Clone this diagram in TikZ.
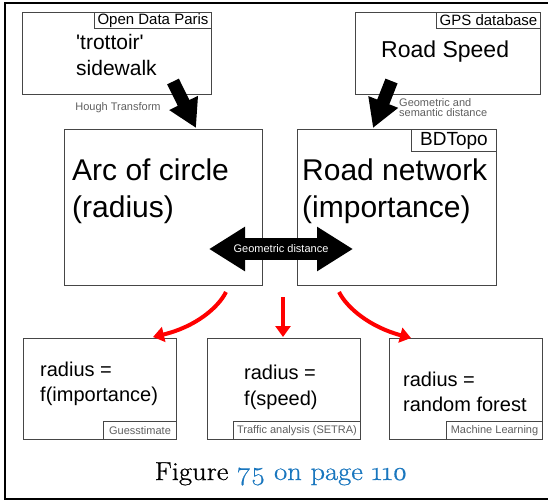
\documentclass[tikz,border=0pt]{standalone}
\usepackage{fontspec}
\setmainfont{Liberation Sans}
\newfontfamily\capfont[Numbers=OldStyle,FakeStretch=1.1,FakeBold=0.6]{Latin Modern Roman}
\usetikzlibrary{arrows.meta}
\definecolor{linkblue}{RGB}{25,118,190}
\definecolor{boxgray}{RGB}{70,70,70}
\definecolor{txtgray}{RGB}{95,95,95}
\begin{document}
\begin{tikzpicture}[x=1pt,y=-1pt,
  box/.style={draw=boxgray, line width=1.2pt, rectangle, inner sep=0pt, anchor=north west},
  lbl/.style={draw=boxgray, line width=1pt, rectangle, inner sep=0pt, anchor=north west, font=\fontsize{15}{16}\selectfont},
  sublbl/.style={draw=boxgray, line width=1pt, rectangle, inner sep=0pt, anchor=north west, text=txtgray, font=\fontsize{11}{12}\selectfont},
  bigtxt/.style={anchor=west, align=left, inner sep=0pt},
  note/.style={text=txtgray, inner sep=0pt, font=\fontsize{11}{10.5}\selectfont},
  blockarrow/.style={line width=13pt, -{Triangle[length=28pt,width=30pt]}},
  dblarrow/.style={line width=22pt, {Triangle[length=36pt,width=42pt]}-{Triangle[length=36pt,width=42pt]}},
  redarrow/.style={red, line width=4pt, -{Triangle[length=11pt,width=15pt]}}]
\useasboundingbox (0,0) rectangle (548,501);
\draw[line width=1.5pt] (5,3) rectangle (553,499);

% top boxes
\node[box, minimum width=189pt, minimum height=82pt] (trot) at (22,12) {};
\node[lbl, minimum width=117pt, minimum height=16pt] (odp) at (94,12) {Open Data Paris};
\node[bigtxt, font=\fontsize{21}{26}\selectfont] (trottxt) at (76,55) {\textquotesingle trottoir\textquotesingle\\sidewalk};

\node[box, minimum width=185pt, minimum height=82pt] (speed) at (355,12) {};
\node[lbl, minimum width=104pt, minimum height=16pt] (gps) at (436,12) {GPS database};
\node[bigtxt, font=\fontsize{23}{26}\selectfont] (speedtxt) at (381,52) {Road Speed};

% middle boxes
\node[box, minimum width=198pt, minimum height=156pt] (arc) at (64,129) {};
\node[bigtxt, font=\fontsize{30}{37}\selectfont] (arctxt) at (72,191.5) {Arc of circle\\(radius)};

\node[box, minimum width=199pt, minimum height=156pt] (road) at (297,129) {};
\node[lbl, minimum width=85pt, minimum height=22pt, font=\fontsize{19}{20}\selectfont] (bdt) at (411,129) {BDTopo};
\node[bigtxt, font=\fontsize{30}{37}\selectfont] (roadtxt) at (302,191.5) {Road network\\(importance)};

% bottom boxes
\node[box, minimum width=153pt, minimum height=101pt] (ba) at (23,338) {};
\node[sublbl, minimum width=73pt, minimum height=18pt] (bal) at (103,421) {Guesstimate};
\node[bigtxt, font=\fontsize{20}{25}\selectfont] (batxt) at (40,383.5) {radius =\\f(importance)};

\node[box, minimum width=153pt, minimum height=101pt] (bb) at (207,338) {};
\node[sublbl, minimum width=127pt, minimum height=18pt] (bbl) at (233,421) {Traffic analysis (SETRA)};
\node[bigtxt, font=\fontsize{20}{26}\selectfont] (bbtxt) at (244,387) {radius =\\f(speed)};

\node[box, minimum width=153pt, minimum height=101pt] (bc) at (389,338) {};
\node[sublbl, minimum width=96pt, minimum height=18pt] (bcl) at (446,421) {Machine Learning};
\node[bigtxt, font=\fontsize{20}{25}\selectfont] (bctxt) at (403,391.5) {radius =\\random forest};

% black arrows
\coordinate (h1s) at (173,81.5);
\coordinate (h1e) at (196,128);
\draw[blockarrow] (h1s) -- (h1e);
\node[note] (hough) at (118,108) {Hough Transform};

\coordinate (g1s) at (391.5,81);
\coordinate (g1e) at (373,128);
\draw[blockarrow] (g1s) -- (g1e);
\node[note, anchor=west, align=left] (geosem) at (399,107.5) {Geometric and\\semantic distance};

\coordinate (dl) at (209,249);
\coordinate (dr) at (353,249);
\draw[dblarrow] (dl) -- (dr);
\node[inner sep=0pt, text=white, font=\fontsize{11}{12}\selectfont] (geod) at (281,249) {Geometric distance};

% red arrows
\coordinate (r1s) at (226,292);
\coordinate (r1e) at (153,337);
\draw[redarrow] (r1s) .. controls (218,308) and (195,327) .. (r1e);
\coordinate (r2s) at (283,297);
\coordinate (r2e) at (283,337);
\draw[redarrow] (r2s) -- (r2e);
\coordinate (r3s) at (339,292);
\coordinate (r3e) at (411,338);
\draw[redarrow] (r3s) .. controls (347,308) and (370,327) .. (r3e);

% caption
\node[inner sep=0pt, anchor=base, font=\capfont\fontsize{26}{28}\selectfont] (cap) at (281,480) {Figure \textcolor{linkblue}{75 on page 110}};
\end{tikzpicture}
\end{document}
